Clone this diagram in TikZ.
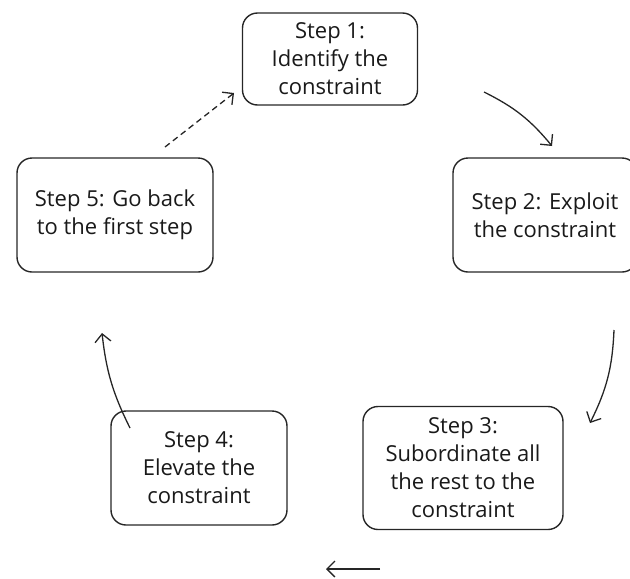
\documentclass[tikz,border=0pt]{standalone}
\usepackage{fontspec}
\setmainfont{Open Sans}
\usetikzlibrary{arrows.meta,positioning}

\begin{document}
\begin{tikzpicture}[x=1pt,y=-1pt,node distance=2cm,on grid,
    stepbox/.style={draw=black!85,rounded corners=15pt,line width=1.4pt,align=center,
      font=\fontsize{22}{28}\selectfont,text=black!90},
    flow/.style={line width=1.3pt,draw=black!85,-{Straight Barb[length=8pt,width=16pt,line width=1.3pt]}}]
  \path[use as bounding box,clip] (0,0) rectangle (630,579);
  \node[stepbox,minimum width=175pt,minimum height=92pt] (s_1) at (330,59)
    {Step 1:\\Identify the\\constraint};
  \node[stepbox,minimum width=184pt,minimum height=114pt] [below right=156pt and 215pt of s_1] (s_2)
    {Step 2: Exploit\\the constraint};
  \node[stepbox,minimum width=196pt,minimum height=114pt] [below left=156pt and 215pt of s_1] (s_5)
    {Step 5: Go back\\to the first step};
  \node[stepbox,minimum width=200pt,minimum height=123pt] [below left=253pt and 82pt of s_2] (s_3)
    {Step 3:\\Subordinate all\\the rest to the\\constraint};
  \node[stepbox,minimum width=176pt,minimum height=114pt] [left=264pt of s_3] (s_4)
    {Step 4:\\Elevate the\\constraint};
  % free arrow ends
  \coordinate (a12) at (484,92);  \coordinate (b12) at (552,146);
  \coordinate (a23) at (614,330); \coordinate (b23) at (590,423);
  \coordinate (a34) at (380,569); \coordinate (b34) at (326,569);
  \coordinate (a45) at (130,428); \coordinate (b45) at (102,333);
  \coordinate (a51) at (165,147); \coordinate (b51) at (234,93);
  \draw[flow] (a12) to[bend left=12] (b12);
  \draw[flow] (a23) to[bend left=12] (b23);
  \draw[flow] (a34) -- (b34);
  \draw[flow] (a45) to[bend left=10] (b45);
  \draw[flow,dashed,dash pattern=on 6pt off 4pt] (a51) -- (b51);
\end{tikzpicture}
\end{document}
